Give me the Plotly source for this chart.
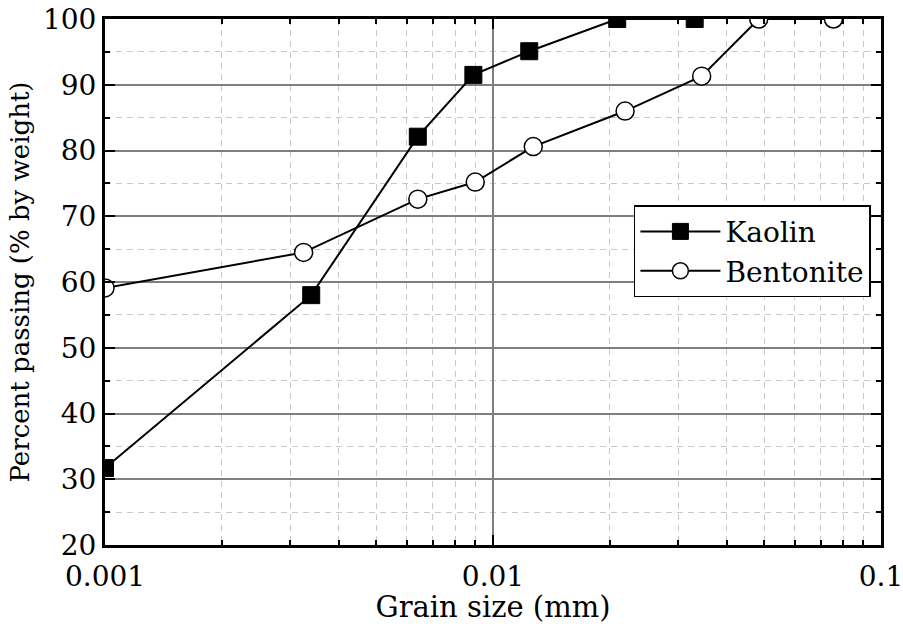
import plotly.graph_objects as go

# Data
kaolin_x = [0.001, 0.0034, 0.0064, 0.0089, 0.0124, 0.0209, 0.0331]
kaolin_y = [31.7, 58.0, 82.1, 91.5, 95.1, 100.0, 100.0]
bentonite_x = [0.001, 0.00325, 0.0064, 0.0090, 0.0127, 0.0219, 0.0345, 0.0484, 0.0754]
bentonite_y = [59.1, 64.5, 72.6, 75.2, 80.6, 86.0, 91.3, 100.0, 100.0]

x_tickvals = [0.001, 0.01, 0.1]
x_ticktext = ["0.001", "0.01", "0.1"]
x_minorvals = [0.002, 0.003, 0.004, 0.005, 0.006, 0.007, 0.008, 0.009,
               0.02, 0.03, 0.04, 0.05, 0.06, 0.07, 0.08, 0.09]
y_tickvals = [20, 30, 40, 50, 60, 70, 80, 90, 100]
y_minorvals = [25, 35, 45, 55, 65, 75, 85, 95]

FONT = "DejaVu Serif"

fig = go.Figure()
fig.add_trace(go.Scatter(
    x=kaolin_x, y=kaolin_y, name="Kaolin", mode="lines+markers",
    line=dict(color="black", width=2),
    marker=dict(symbol="square", size=17, color="black", line=dict(color="black", width=1)),
))
fig.add_trace(go.Scatter(
    x=bentonite_x, y=bentonite_y, name="Bentonite", mode="lines+markers",
    line=dict(color="black", width=2),
    marker=dict(symbol="circle", size=18, color="white", line=dict(color="black", width=1.5)),
))

fig.update_layout(
    width=903, height=624,
    margin=dict(l=105, r=22, t=19, b=79),
    paper_bgcolor="white", plot_bgcolor="white",
    font=dict(family=FONT, size=28, color="black"),
    showlegend=True,
    legend=dict(
        x=0.987, y=0.646, xanchor="right", yanchor="top",
        bgcolor="white", bordercolor="black", borderwidth=1.5,
        font=dict(family=FONT, size=28, color="black"),
        itemwidth=80,
    ),
)

fig.update_xaxes(
    type="log", range=[-3, -1],
    tickmode="array", tickvals=x_tickvals, ticktext=x_ticktext,
    ticks="inside", ticklen=10, tickwidth=2, tickcolor="black",
    showline=True, linewidth=3, linecolor="black", mirror="ticks",
    showgrid=True, gridcolor="#7f7f7f", gridwidth=1.5,
    minor=dict(tickmode="array", tickvals=x_minorvals,
               ticks="inside", ticklen=5, tickwidth=1.5, tickcolor="black",
               showgrid=True, gridcolor="#c8c8c8", gridwidth=1, griddash="6px,5px"),
    tickfont=dict(family=FONT, size=28, color="black"),
    ticklabelstandoff=4, ticklabeloverflow="allow",
    title=dict(text="Grain size (mm)", font=dict(family=FONT, size=29, color="black"), standoff=0),
    automargin=False, zeroline=False,
)
fig.update_yaxes(
    range=[20, 100],
    tickmode="array", tickvals=y_tickvals,
    ticks="inside", ticklen=10, tickwidth=2, tickcolor="black",
    showline=True, linewidth=3, linecolor="black", mirror="ticks",
    showgrid=True, gridcolor="#7f7f7f", gridwidth=1.5,
    minor=dict(tickmode="array", tickvals=y_minorvals,
               ticks="inside", ticklen=5, tickwidth=1.5, tickcolor="black",
               showgrid=True, gridcolor="#c8c8c8", gridwidth=1, griddash="6px,5px"),
    tickfont=dict(family=FONT, size=28, color="black"),
    ticklabeloverflow="allow",
    title=dict(text="Percent passing (% by weight)", font=dict(family=FONT, size=26, color="black"), standoff=6),
    automargin=False, zeroline=False,
)

fig.write_html("out.html")
